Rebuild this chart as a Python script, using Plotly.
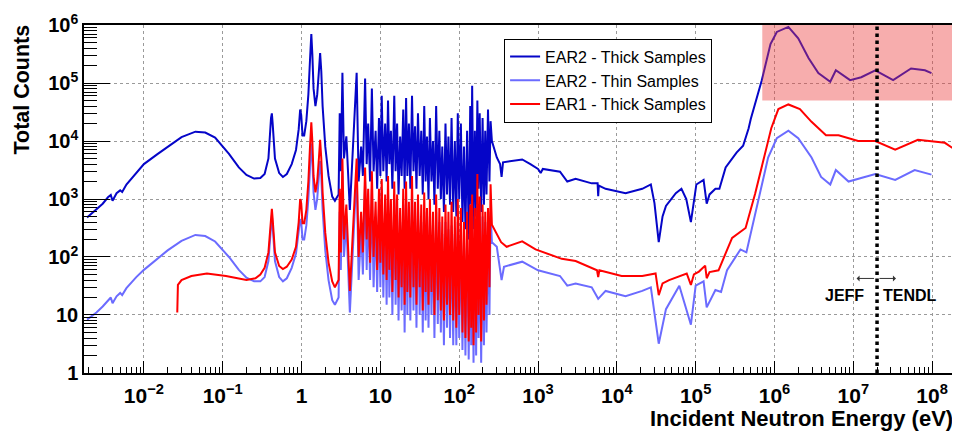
import math
import plotly.graph_objects as go

# ---------------- data ----------------
# low-energy part, EAR2 (thick and thin share energies)
low_e = [1.9e-3, 2.5e-3, 3.0e-3, 3.5e-3, 3.8e-3, 4.0e-3, 4.5e-3, 5.0e-3, 5.3e-3, 6.0e-3,
         8e-3, 1.0e-2, 1.5e-2, 2e-2, 3e-2, 4.5e-2, 6e-2, 8e-2, 0.12, 0.16, 0.2, 0.25, 0.3,
         0.34, 0.38, 0.41, 0.42, 0.43, 0.46, 0.52, 0.58, 0.65, 0.75, 0.85, 0.92, 0.96, 0.99,
         1.03, 1.08, 1.15, 1.22, 1.28, 1.33, 1.37, 1.42, 1.5, 1.58, 1.66, 1.72, 1.78, 1.85,
         2.0, 2.2, 2.45, 2.65]
low_thick = [480, 660, 830, 1070, 1170, 930, 1260, 1410, 1320, 1780,
             2800, 4000, 6000, 8000, 11700, 14500, 14000, 11500, 6000, 3500, 2600, 2250, 2300,
             2700, 5000, 25000, 30000, 20000, 5000, 2800, 2400, 2700, 4000, 7000, 16000, 35000, 28000,
             12500, 12500, 22000, 63000, 250000, 700000, 316000, 80000, 40000, 63000, 160000, 330000, 160000, 40000,
             8000, 2500, 1100, 930]
low_thin = [8.3, 11, 14, 18, 20, 16, 21, 24, 22, 29,
            45, 60, 95, 130, 190, 240, 230, 185, 100, 60, 44, 38, 38,
            45, 85, 420, 520, 340, 85, 45, 38, 43, 65, 115, 270, 450, 400,
            200, 200, 350, 1000, 4000, 9000, 5000, 1300, 650, 1000, 2500, 4500, 2500, 650,
            130, 40, 18, 15]
# low-energy part, EAR1
low_e_ear1 = [0.0265, 0.027, 0.03, 0.04, 0.063, 0.11, 0.2, 0.26, 0.3, 0.34, 0.38, 0.41, 0.42,
              0.43, 0.46, 0.52, 0.58, 0.65, 0.75, 0.85, 0.92, 0.96, 0.99, 1.03, 1.08, 1.15,
              1.22, 1.28, 1.33, 1.37, 1.42, 1.5, 1.58, 1.66, 1.72, 1.78, 1.85, 2.0, 2.2, 2.45, 2.65]
low_ear1 = [11, 33, 40, 47, 52, 47, 40, 43, 50, 65, 120, 550, 680,
            450, 120, 70, 62, 68, 90, 150, 400, 1000, 850, 380, 380, 650,
            2000, 8000, 21000, 10000, 2500, 1300, 2000, 5000, 10500, 5000, 1300, 260, 80, 38, 30]

# resolved resonance region (shared energies)
forest_e = [2.95, 3.05, 3.15, 3.3, 3.45, 3.7, 4.1, 5.0, 5.3, 5.7, 6.0, 6.4, 6.7, 7.0, 7.4, 7.8,
            8.2, 8.7, 9.1, 9.6, 10.0, 10.4, 10.9, 11.5, 12.0, 12.5, 13.0, 13.6, 14.2, 15.0, 15.6,
            16.3, 17.0, 17.8, 18.6, 19.5, 20.3, 21.2, 22.0, 23.0, 24.0, 25.2, 26.3, 27.5, 28.7,
            30.0, 31.5, 33.0, 34.5, 36.0, 37.5, 39.0, 40.8, 42.5, 44.5, 46.5, 48.5, 51.0, 53.5,
            56.0, 58.5, 61.0, 64.0, 67.0, 70.0, 73.0, 76.5, 80.0, 84.0, 88.0, 92.0, 96.0, 100,
            105, 110, 115, 120, 126, 132, 138, 142, 146, 152, 158, 164, 170, 176, 182, 190, 198,
            206, 214, 222, 232, 242, 250]
forest_thick = [1200, 30000, 3000, 150000, 5000, 12000, 650, 150000, 2000, 8000, 2500, 120000, 4000,
                20000, 2000, 80000, 3000, 15000, 1500, 25000, 2500, 60000, 3000, 20000, 2000, 50000,
                4000, 15000, 1500, 60000, 3000, 20000, 1200, 12000, 2500, 35000, 1500, 55000, 2500,
                20000, 1500, 60000, 3000, 18000, 1500, 30000, 2500, 15000, 1200, 40000, 2000, 12000,
                1000, 25000, 2000, 10000, 800, 40000, 1500, 15000, 1000, 8000, 600, 20000, 1200,
                12000, 800, 25000, 600, 10000, 500, 30000, 1000, 20000, 400, 8000, 300, 15000, 200,
                40000, 800, 90000, 300, 15000, 500, 50000, 1500, 30000, 600, 25000, 800, 15000, 1200,
                35000, 2000, 22000]
forest_thin = [20, 600, 60, 3000, 100, 400, 11, 3000, 40, 300, 50, 2000, 60, 800, 40, 1500, 30,
               500, 25, 700, 30, 1500, 20, 600, 15, 1200, 20, 500, 10, 1000, 15, 700, 8, 400, 12,
               800, 5, 1000, 10, 500, 8, 1200, 12, 500, 6, 700, 10, 400, 5, 600, 8, 400, 6, 500,
               10, 300, 4, 600, 7, 400, 5, 250, 3, 400, 6, 300, 4, 350, 3, 250, 3, 400, 4, 300,
               2.5, 200, 2, 250, 1.7, 300, 3, 500, 1.5, 300, 2, 800, 4, 600, 1.5, 500, 3, 400, 5,
               300, 10, 600]
forest_ear1 = [40, 1500, 120, 5000, 200, 800, 26, 5000, 100, 600, 120, 3500, 200, 1500, 80, 3000,
               100, 900, 60, 1500, 80, 2200, 50, 1200, 40, 2500, 60, 1000, 25, 2000, 40, 1200, 20,
               700, 30, 1500, 15, 2000, 25, 900, 20, 2500, 30, 900, 15, 1200, 30, 800, 12, 1300,
               25, 700, 15, 1000, 25, 600, 10, 1200, 18, 700, 12, 500, 8, 800, 15, 600, 10, 900,
               8, 500, 6, 1000, 10, 700, 5, 400, 4, 600, 3.5, 800, 6, 1200, 3, 700, 5, 2700, 10,
               1100, 3.5, 800, 8, 600, 15, 700, 30, 1800]

# unresolved / fast region
high_e_thick = [260, 300, 330, 345, 360, 450, 630, 800, 1000, 1080, 1150, 1900, 2350, 3000, 4800,
                5700, 5800, 5900, 7200, 12900, 21000, 27000, 30000, 34000, 38000, 42000, 56000,
                66000, 76000, 87000, 95000, 102000, 126000, 138000, 150000, 178000, 200000, 240000,
                330000, 400000, 470000, 500000, 690000, 890000, 1.07e6, 1.5e6, 2.0e6, 2.7e6, 3.6e6,
                5.1e6, 6.0e6, 9.1e6, 1.26e7, 1.9e7, 3.2e7, 5.4e7, 8.1e7, 9.8e7]
high_thick = [10000, 5200, 4000, 2400, 4300, 4500, 4800, 4000, 3300, 2800, 3300, 2950, 2000, 2240,
              1860, 1860, 1120, 1700, 1500, 1260, 1500, 1780, 850, 180, 500, 760, 1260, 1500, 1000,
              400, 1000, 1780, 2140, 830, 1200, 1500, 1500, 3500, 6300, 8300, 16600, 24000, 112000,
              470000, 760000, 930000, 590000, 270000, 148000, 105000, 166000, 112000, 126000,
              166000, 112000, 178000, 166000, 148000]
high_e_thin = [260, 300, 345, 370, 630, 1000, 1900, 2350, 3000, 4800, 5800, 7200, 12900, 21000,
               27000, 34000, 42000, 62000, 87000, 100000, 126000, 138000, 178000, 210000, 250000,
               370000, 440000, 570000, 830000, 1.07e6, 1.5e6, 2.0e6, 2.95e6, 3.9e6, 5.1e6, 6.0e6,
               8.7e6, 1.9e7, 3.4e7, 6.0e7, 9.8e7]
high_thin = [180, 150, 40, 68, 83, 59, 47, 32, 35, 30, 19, 26, 21, 26, 30, 3.2, 12.6, 32, 6.8, 32,
             38, 13.5, 27, 25, 59, 135, 120, 590, 5200, 11200, 15100, 11200, 5200, 2400, 1780,
             3160, 2000, 2700, 2140, 3160, 2630]
high_e_ear1 = [260, 340, 400, 630, 930, 2000, 3000, 5600, 5800, 6000, 11500, 21000, 31000, 34000,
               38000, 46000, 77000, 87000, 95000, 110000, 132000, 138000, 150000, 195000, 290000,
               430000, 570000, 910000, 1.12e6, 1.5e6, 2.1e6, 2.95e6, 4.5e6, 6.5e6, 1.15e7, 1.9e7,
               3.4e7, 6.6e7, 1.45e8, 1.95e8]
high_ear1 = [360, 180, 150, 186, 135, 93, 85, 59, 45, 59, 47, 47, 52, 22, 35, 40, 52, 33, 50, 56,
             71, 43, 55, 59, 214, 316, 1260, 16600, 35500, 42700, 35500, 21400, 12600, 12600,
             10000, 10000, 7100, 10500, 9300, 7100]

x_tick_vals = [1e-2, 1e-1, 1, 10, 1e2, 1e3, 1e4, 1e5, 1e6, 1e7, 1e8]
x_tick_text = ["10<sup>\u22122</sup>", "10<sup>\u22121</sup>", "1", "10", "10<sup>2</sup>",
               "10<sup>3</sup>", "10<sup>4</sup>", "10<sup>5</sup>", "10<sup>6</sup>",
               "10<sup>7</sup>", "10<sup>8</sup>"]
y_tick_vals = [1, 10, 1e2, 1e3, 1e4, 1e5, 1e6]
y_tick_text = ["1", "10", "10<sup>2</sup>", "10<sup>3</sup>", "10<sup>4</sup>",
               "10<sup>5</sup>", "10<sup>6</sup>"]

series_names = ["EAR2 - Thick Samples", "EAR2 - Thin Samples", "EAR1 - Thick Samples"]
series_colors = ["#0505c8", "#6b6bff", "#ff0000"]

jeff_tendl_boundary = 2e7
shade_x = [7e5, 2e8]
shade_y = [5e4, 1e6]

# ---------------- figure ----------------
FONT = "Liberation Sans, Arial, Helvetica, sans-serif"
fig = go.Figure()

fig.add_trace(go.Scatter(x=low_e + forest_e + high_e_thick,
                         y=low_thick + forest_thick + high_thick,
                         mode="lines", name=series_names[0],
                         line=dict(color=series_colors[0], width=2)))
fig.add_trace(go.Scatter(x=low_e + forest_e + high_e_thin,
                         y=low_thin + forest_thin + high_thin,
                         mode="lines", name=series_names[1],
                         line=dict(color=series_colors[1], width=2)))
fig.add_trace(go.Scatter(x=low_e_ear1 + forest_e + high_e_ear1,
                         y=low_ear1 + forest_ear1 + high_ear1,
                         mode="lines", name=series_names[2],
                         line=dict(color=series_colors[2], width=2)))

# shaded region (drawn above, translucent)
fig.add_shape(type="rect", xref="x", yref="y", x0=shade_x[0], x1=shade_x[1],
              y0=shade_y[0], y1=shade_y[1], layer="above",
              fillcolor="rgba(235,60,60,0.42)", line=dict(width=0))
# JEFF / TENDL boundary
fig.add_shape(type="line", xref="x", yref="paper", x0=jeff_tendl_boundary, x1=jeff_tendl_boundary,
              y0=0, y1=1, layer="above", line=dict(color="black", width=3.5, dash="dot"))

lb = math.log10(jeff_tendl_boundary)
fig.add_annotation(x=lb - 0.26, y=1.63, xref="x", yref="y", text="", showarrow=True,
                   ax=19, ay=0, arrowhead=1, arrowsize=1, arrowwidth=1, arrowcolor="#333")
fig.add_annotation(x=lb + 0.24, y=1.63, xref="x", yref="y", text="", showarrow=True,
                   ax=-18, ay=0, arrowhead=1, arrowsize=1, arrowwidth=1, arrowcolor="#333")
fig.add_annotation(x=lb - 0.415, y=1.33, xref="x", yref="y", text="JEFF", showarrow=False,
                   font=dict(family=FONT, size=16, color="black", weight="bold"))
fig.add_annotation(x=lb + 0.42, y=1.33, xref="x", yref="y", text="TENDL", showarrow=False,
                   font=dict(family=FONT, size=16, color="black", weight="bold"))

# axis titles
fig.add_annotation(x=1.0, y=-0.132, xref="paper", yref="paper", xanchor="right", yanchor="middle",
                   text="Incident Neutron Energy (eV)", showarrow=False,
                   font=dict(family=FONT, size=22, color="black", weight="bold"))
fig.add_annotation(x=-0.071, y=0.815, xref="paper", yref="paper", xanchor="center", yanchor="middle",
                   text="Total Counts", textangle=-90, showarrow=False,
                   font=dict(family=FONT, size=21.5, color="black", weight="bold"))

axis_common = dict(type="log", showline=True, linecolor="black", linewidth=1.5, mirror=True,
                   showgrid=True, gridcolor="#9a9a9a", griddash="dot", gridwidth=1,
                   ticks="inside", tickcolor="black", zeroline=False, ticklabeloverflow="allow")

fig.update_xaxes(**axis_common, range=[-2.76, 8.29], tickvals=x_tick_vals, ticktext=x_tick_text,
                 ticklen=12, tickwidth=1, ticklabelstandoff=3,
                 tickfont=dict(family=FONT, size=21, color="black", weight="bold"),
                 minor=dict(ticks="inside", ticklen=6, tickcolor="black", dtick="D1", showgrid=False))
fig.update_yaxes(**axis_common, range=[-0.0005, 6.0005], tickvals=y_tick_vals, ticktext=y_tick_text,
                 ticklen=26, tickwidth=1,
                 tickfont=dict(family=FONT, size=20, color="black", weight="bold"),
                 minor=dict(ticks="inside", ticklen=13, tickcolor="black", dtick="D1", showgrid=False))

# the page places the figure 8 px from the top-left corner, so the figure is
# sized to fill the remaining 952x429 window area
fig.update_layout(
    width=952, height=429,
    margin=dict(l=76, r=3, t=5, b=64),
    paper_bgcolor="white", plot_bgcolor="white",
    showlegend=True,
    legend=dict(x=0.4823, y=0.961, xanchor="left", yanchor="top",
                bgcolor="white", bordercolor="black", borderwidth=1,
                font=dict(family=FONT, size=16, color="black"),
                tracegroupgap=0),
)

fig.write_html("out.html")
